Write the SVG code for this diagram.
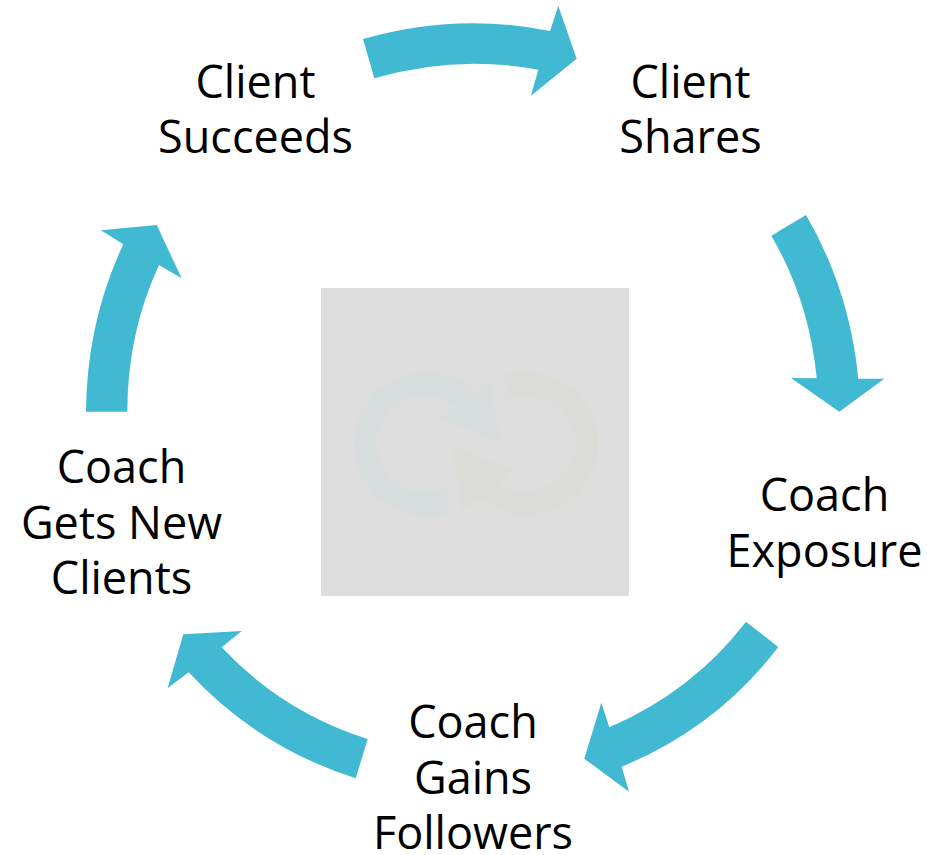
<svg xmlns="http://www.w3.org/2000/svg" width="927" height="855" viewBox="0 0 927 855">
<style>
.a{fill:#41b9d3}
.t{font-family:"Open Sans","Noto Sans","Liberation Sans",sans-serif;font-size:45px;fill:#000;text-anchor:middle}
</style>
<rect width="927" height="855" fill="#fff"/>
<g id="center-logo">
<rect x="321" y="288" width="308" height="308" fill="#dddddd"/>
<g transform="translate(320,287) scale(.33333)">
<path fill="#d7dcdd" d="M382,680 Q350,686 320,686 C200,686 103,590 103,470 C103,350 200,257 320,257 C380,257 435,280 470,320 L512,275 L540,465 L360,393 L410,360 C385,335 355,325 320,325 C240,325 170,390 170,470 C170,550 240,615 320,615 Q350,615 378,605 Z"/>
<path fill="#dbdcd8" d="M555,262 Q590,255 620,255 C735,255 835,350 835,470 C835,590 735,685 610,685 C570,685 525,670 490,630 L425,668 L398,478 L575,548 L535,597 Q570,612 615,612 C695,612 768,550 768,470 C768,390 695,328 620,328 Q590,328 558,335 Z"/>
</g>
</g>
<g id="connectors">
<path class="a" d="M363,39 Q456,12 550,31 L558.3,6 L576.7,58.7 L531,95.7 L538.3,69.7 Q456,54.4 374.3,78.3 Z"/>
<path class="a" d="M806,215 Q849.7,290 858.3,378.7 L884.3,378.7 L839.3,411.7 L791,378 L816.7,378.3 Q809.3,300.6 771.3,235.7 Z"/>
<path class="a" d="M778.3,647 Q717.2,727.2 621.7,766.7 L629,791.7 L584.3,758.7 L601.3,702.7 L609.3,727.3 Q692.4,691.5 746,621.7 Z"/>
<path class="a" d="M355.7,778.3 Q257.1,746.5 188.7,672.3 L167.7,688 L183.3,634.3 L241.7,631 L221.7,647.3 Q281.7,711.5 367.7,739 Z"/>
<path class="a" d="M86,411.7 Q86.6,322.6 123.3,244.3 L101,230.3 L156.7,225 L181.7,278.3 L159,265 Q127.3,333.5 127.3,411.7 Z"/>
</g>
<g id="client-succeeds"><text class="t" x="255.500" y="97.500">Client</text><text class="t" x="255.500" y="153">Succeeds</text></g>
<g id="client-shares"><text class="t" x="690.500" y="97.500">Client</text><text class="t" x="690.500" y="153">Shares</text></g>
<g id="coach-exposure"><text class="t" x="824.500" y="511">Coach</text><text class="t" x="824.500" y="566.500">Exposure</text></g>
<g id="coach-gains-followers"><text class="t" x="473" y="738">Coach</text><text class="t" x="473" y="793.500">Gains</text><text class="t" x="473" y="849">Followers</text></g>
<g id="coach-gets-new-clients"><text class="t" x="121.500" y="483">Coach</text><text class="t" x="121.500" y="538.500">Gets New</text><text class="t" x="121.500" y="594">Clients</text></g>
</svg>
